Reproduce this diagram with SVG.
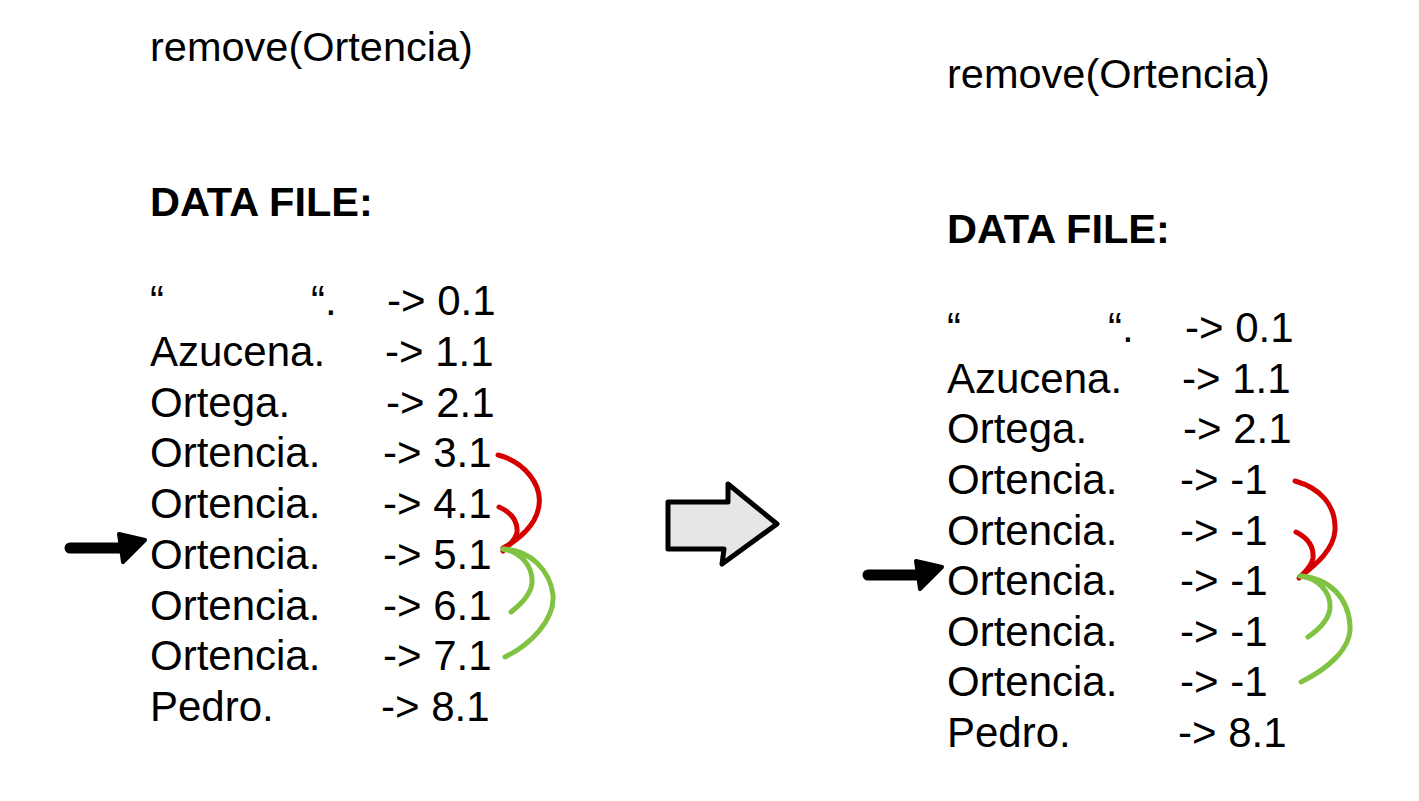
<svg xmlns="http://www.w3.org/2000/svg" width="1419" height="801" viewBox="0 0 1419 801">
<style>
text{font-family:"Liberation Sans",Arial,Helvetica,sans-serif;fill:#000;}
.t{font-size:42px;}
.h{font-size:41.5px;}
.b{font-size:41.5px;font-weight:bold;}
.red{fill:none;stroke:#d50000;stroke-width:5;stroke-linecap:round;stroke-linejoin:round;}
.grn{fill:none;stroke:#80c342;stroke-width:5;stroke-linecap:round;stroke-linejoin:round;}
.ptr{stroke:#000;stroke-width:11;stroke-linecap:round;fill:none;}
.ptrh{fill:#000;stroke:#000;stroke-width:4;stroke-linejoin:round;}
</style>
<rect width="1419" height="801" fill="#fff"/>
<g id="left-panel">
<text class="h" x="150" y="61">remove(Ortencia)</text>
<text class="b" x="150" y="216">DATA FILE:</text>
<text class="t" y="315"><tspan x="150">“</tspan><tspan x="311">“.</tspan><tspan x="387">-&gt; 0.1</tspan></text>
<text class="t" y="366"><tspan x="150">Azucena.</tspan><tspan x="385">-&gt; 1.1</tspan></text>
<text class="t" y="417"><tspan x="150">Ortega.</tspan><tspan x="386">-&gt; 2.1</tspan></text>
<text class="t" y="467"><tspan x="150">Ortencia.</tspan><tspan x="383">-&gt; 3.1</tspan></text>
<text class="t" y="518"><tspan x="150">Ortencia.</tspan><tspan x="383">-&gt; 4.1</tspan></text>
<text class="t" y="569"><tspan x="150">Ortencia.</tspan><tspan x="383">-&gt; 5.1</tspan></text>
<text class="t" y="620"><tspan x="150">Ortencia.</tspan><tspan x="383">-&gt; 6.1</tspan></text>
<text class="t" y="670"><tspan x="150">Ortencia.</tspan><tspan x="383">-&gt; 7.1</tspan></text>
<text class="t" y="721"><tspan x="150">Pedro.</tspan><tspan x="381">-&gt; 8.1</tspan></text>
</g>
<g id="right-panel">
<text class="h" x="947" y="88">remove(Ortencia)</text>
<text class="b" x="947" y="243">DATA FILE:</text>
<text class="t" y="342"><tspan x="947">“</tspan><tspan x="1108">“.</tspan><tspan x="1185">-&gt; 0.1</tspan></text>
<text class="t" y="393"><tspan x="947">Azucena.</tspan><tspan x="1182">-&gt; 1.1</tspan></text>
<text class="t" y="443"><tspan x="947">Ortega.</tspan><tspan x="1183">-&gt; 2.1</tspan></text>
<text class="t" y="494"><tspan x="947">Ortencia.</tspan><tspan x="1180">-&gt; -1</tspan></text>
<text class="t" y="545"><tspan x="947">Ortencia.</tspan><tspan x="1180">-&gt; -1</tspan></text>
<text class="t" y="595"><tspan x="947">Ortencia.</tspan><tspan x="1180">-&gt; -1</tspan></text>
<text class="t" y="646"><tspan x="947">Ortencia.</tspan><tspan x="1180">-&gt; -1</tspan></text>
<text class="t" y="696"><tspan x="947">Ortencia.</tspan><tspan x="1180">-&gt; -1</tspan></text>
<text class="t" y="747"><tspan x="947">Pedro.</tspan><tspan x="1178">-&gt; 8.1</tspan></text>
</g>
<g id="transform-arrow">
<polygon points="668,502 728,502 728,484 777,524 722,564 724,549 668,549" fill="#e6e6e6" stroke="#000" stroke-width="5" stroke-linejoin="round"/>
</g>
<g id="connectors">
<line class="ptr" x1="70" y1="548" x2="124" y2="548"/>
<polygon class="ptrh" points="119,534 145,540 123,562"/>
<line class="ptr" x1="868" y1="575" x2="921" y2="575"/>
<polygon class="ptrh" points="916,561 942,567 920,589"/>
<path class="red" d="M498,455 C525,462 542,485 539,505 C537,525 518,540 503,548"/>
<path class="red" d="M499,507 C510,512 518,520 517,532 C516,540 508,546 503,551"/>
<path class="grn" d="M503,549 C520,552 533,565 532,583 C531,595 520,605 511,612"/>
<path class="grn" d="M503,549 C530,550 550,570 553,595 C555,620 530,645 505,657"/>
<path class="red" d="M1295,481 C1320,488 1336,505 1335,530 C1334,550 1315,565 1300,577"/>
<path class="red" d="M1296,532 C1308,538 1314,546 1313,558 C1312,566 1305,572 1299,578"/>
<path class="grn" d="M1300,576 C1318,578 1331,592 1330,608 C1329,620 1318,630 1308,637"/>
<path class="grn" d="M1300,576 C1330,578 1348,598 1350,625 C1352,650 1325,670 1301,682"/>
</g>
</svg>
